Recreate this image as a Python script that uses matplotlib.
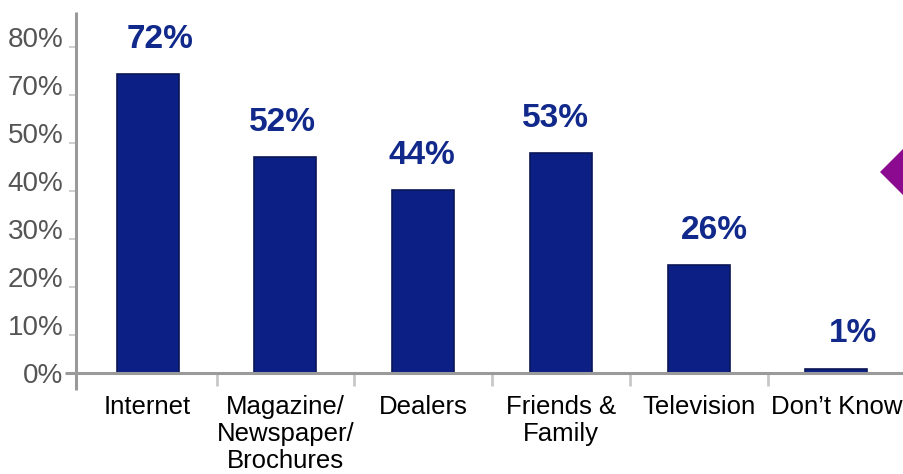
import numpy as np
import matplotlib
matplotlib.use("Agg")
import matplotlib.pyplot as plt
from matplotlib.patches import Polygon

plt.rcParams["font.family"] = ["Liberation Sans", "DejaVu Sans"]

sources = ["Internet", "Magazine/\nNewspaper/\nBrochures", "Dealers",
           "Friends &\nFamily", "Television", "Don\u2019t Know"]
shares = [72, 52, 44, 53, 26, 1]
ytick_labels = ["0%", "10%", "20%", "30%", "40%", "50%", "70%", "80%"]

# small sideways nudges for the value labels (points)
label_dx = [9, -2, -1, -4, 11, 12]

bar_color = "#0c1f84"
label_color = "#10298a"
axis_gray = "#9a9a9a"

fig = plt.figure(figsize=(9.04, 4.74), dpi=100)
ax = fig.add_axes([76 / 904, 101 / 474, 828 / 904, 361 / 474])

x = np.arange(len(sources))
ax.bar(x, shares, width=0.45, color=bar_color, edgecolor="#0a1655", linewidth=1.2, zorder=2)

for xi, val, dx in zip(x, shares, label_dx):
    ax.annotate(f"{val}%", (xi, val), xytext=(dx, 19), textcoords="offset points",
                ha="center", va="baseline", fontsize=24, fontweight="bold", color=label_color)

ax.set_xlim(-0.52, 5.49)
ax.set_ylim(0, 87)

# y labels sit evenly spaced, tick marks slightly below them
ypos = np.linspace(0, 81, len(ytick_labels))
ax.set_yticks(ypos)
ax.set_yticklabels(ytick_labels, fontsize=20, color="#555555")
ax.set_yticks(np.r_[0, ypos[1:] - 2.5], minor=True)
ax.tick_params(axis="y", which="major", length=0, pad=9)
ax.tick_params(axis="y", which="minor", length=5, width=1.5, color="#d0d0d0", direction="out")

ax.set_xticks(x)
ax.set_xticklabels(sources, fontsize=18.5, color="black", linespacing=1.15)
ax.set_xticks(x[:-1] + 0.5, minor=True)
ax.tick_params(axis="x", which="major", length=0, pad=16)
ax.tick_params(axis="x", which="minor", length=9, width=2, color="#c8c8c8", direction="out")

for side in ["left", "right", "top", "bottom"]:
    ax.spines[side].set_visible(False)

# axis lines run a little past the corner
ax.plot([-11 / 828, 1], [0, 0], transform=ax.transAxes, color=axis_gray, lw=2.2,
        clip_on=False, zorder=3, solid_capstyle="butt")
ax.plot([0, 0], [-17 / 361, 1], transform=ax.transAxes, color=axis_gray, lw=2.2,
        clip_on=False, zorder=3, solid_capstyle="butt")

# purple diamond peeking in at the right edge
diamond = Polygon([(880 / 904, 302 / 474), (930 / 904, 352 / 474),
                   (980 / 904, 302 / 474), (930 / 904, 252 / 474)],
                  closed=True, transform=fig.transFigure, facecolor="#8b0a8f",
                  edgecolor="none")
fig.patches.append(diamond)

fig.savefig("out.png", dpi=100)
